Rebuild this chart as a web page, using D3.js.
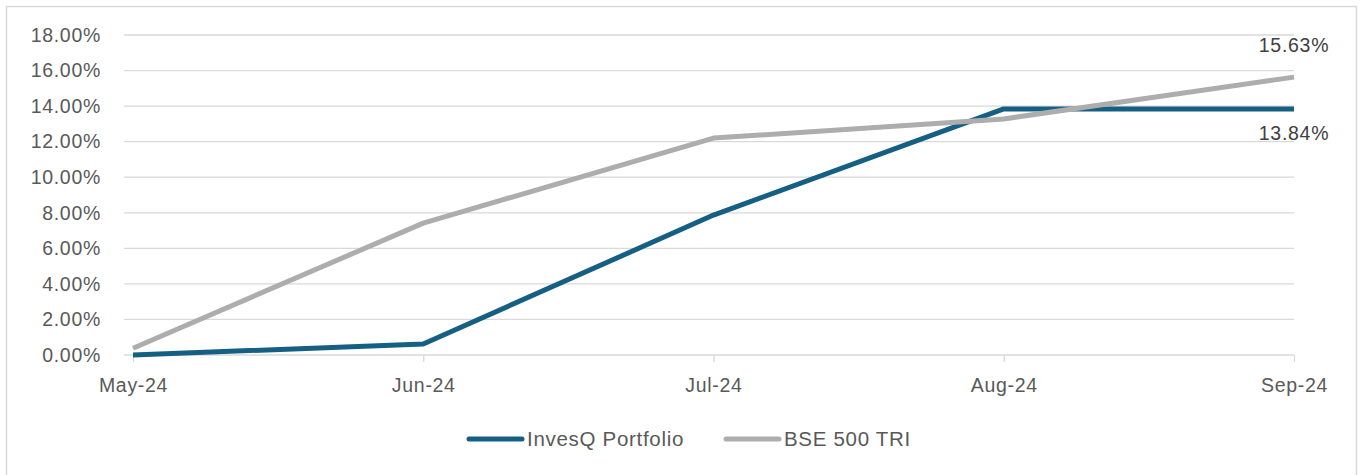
<!DOCTYPE html>
<html><head><meta charset="utf-8">
<script src="https://cdn.jsdelivr.net/npm/d3@7"></script>
<style>body{margin:0;background:#fff;}svg{display:block;font-family:"Liberation Sans",Arial,sans-serif;}</style>
</head><body><svg id="c" width="1360" height="475"></svg>
<script>
const categories = ["May-24","Jun-24","Jul-24","Aug-24","Sep-24"];
const invesq = [0.00, 0.62, 7.87, 13.84, 13.84];
const bse = [0.38, 7.42, 12.20, 13.28, 15.63];
const yTicks = [0,2,4,6,8,10,12,14,16,18];
const seriesNames = ["InvesQ Portfolio","BSE 500 TRI"];
const colors = ["#155F82","#ADADAD"];

const FS = 19.5, LS = "0.7px";
const svg = d3.select("#c");
svg.append("rect").attr("x",6.5).attr("y",6.5).attr("width",1350).attr("height",480)
  .attr("fill","#fff").attr("stroke","#D9D9D9").attr("stroke-width",1.5);

const x = d3.scalePoint().domain(categories).range([133,1294]);
const y = d3.scaleLinear().domain([0,18]).range([355,35]);

// gridlines
svg.append("g").selectAll("line").data(yTicks.filter(d=>d>0)).join("line")
  .attr("x1",124).attr("x2",1294).attr("y1",d=>y(d)).attr("y2",d=>y(d))
  .attr("stroke","#D9D9D9").attr("stroke-width",1.3);

// y axis labels
const ya = svg.append("g").attr("transform","translate(101,0)")
  .call(d3.axisLeft(y).tickValues(yTicks).tickSize(0).tickPadding(0).tickFormat(d=>d.toFixed(2)+"%"));
ya.select(".domain").remove();
ya.selectAll("text").attr("font-size",FS).attr("fill","#595959").attr("letter-spacing",LS)
  .attr("font-family","Liberation Sans, Arial, sans-serif");

// x axis
const xa = svg.append("g").attr("transform","translate(0,355)")
  .call(d3.axisBottom(x).tickSize(7).tickPadding(16));
xa.select(".domain").attr("d","M124,0H1294").attr("stroke","#D9D9D9").attr("stroke-width",1.3);
xa.selectAll(".tick line").attr("stroke","#D9D9D9").attr("stroke-width",1.3);
xa.selectAll("text").attr("font-size",FS).attr("fill","#595959").attr("letter-spacing",LS)
  .attr("font-family","Liberation Sans, Arial, sans-serif");

const line = d3.line().x((d,i)=>x(categories[i])).y(d=>y(d));
[invesq,bse].forEach((s,k)=>{
  svg.append("path").datum(s).attr("d",line).attr("fill","none")
    .attr("stroke",colors[k]).attr("stroke-width",5).attr("stroke-linejoin","round");
});

// data labels at last point
const last = categories.length-1;
svg.append("text").attr("x",x(categories[last])).attr("y",y(bse[last])-25)
  .attr("text-anchor","middle").attr("font-size",FS).attr("letter-spacing",LS).attr("fill","#404040")
  .text(bse[last].toFixed(2)+"%");
svg.append("text").attr("x",x(categories[last])).attr("y",y(invesq[last])+31)
  .attr("text-anchor","middle").attr("font-size",FS).attr("letter-spacing",LS).attr("fill","#404040")
  .text(invesq[last].toFixed(2)+"%");

// legend
const leg = [{x:467},{x:724}];
seriesNames.forEach((n,k)=>{
  const g = svg.append("g").attr("transform",`translate(${leg[k].x},439)`);
  g.append("line").attr("x1",2).attr("x2",55).attr("y1",0).attr("y2",0)
    .attr("stroke",colors[k]).attr("stroke-width",5).attr("stroke-linecap","round");
  g.append("text").attr("x",60).attr("y",7).attr("font-size",FS+1).attr("letter-spacing",LS)
    .attr("fill","#595959").text(n);
});
</script></body></html>
